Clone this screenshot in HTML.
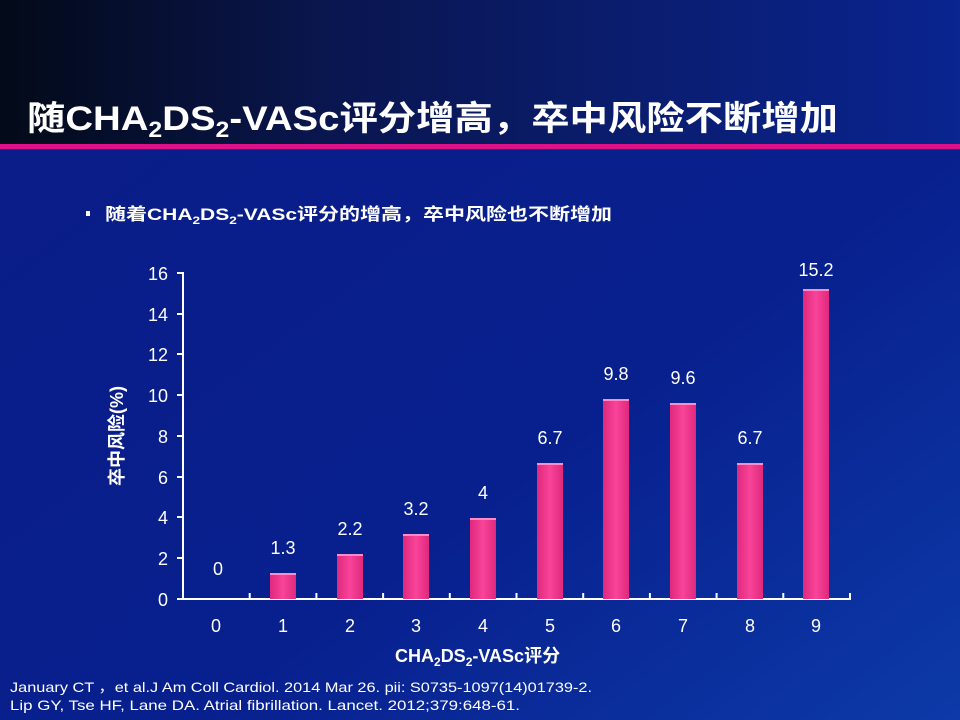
<!DOCTYPE html>
<html><head><meta charset="utf-8"><style>
html,body{margin:0;padding:0;width:960px;height:720px;overflow:hidden}
svg{display:block}
text{font-family:"Liberation Sans","Noto Sans CJK SC",sans-serif;fill:#fff}
</style></head><body>
<svg width="960" height="720" viewBox="0 0 960 720" xmlns="http://www.w3.org/2000/svg">
<defs>
<linearGradient id="top" x1="0" y1="0" x2="1" y2="0">
<stop offset="0" stop-color="#030a18"/><stop offset="0.35" stop-color="#0a1650"/><stop offset="1" stop-color="#0a2490"/>
</linearGradient>
<linearGradient id="bg" x1="0" y1="0" x2="1" y2="1">
<stop offset="0" stop-color="#0a1c86"/><stop offset="0.6" stop-color="#08208e"/><stop offset="1" stop-color="#0c3aa8"/>
</linearGradient>
<linearGradient id="bar" x1="0" y1="0" x2="1" y2="0">
<stop offset="0" stop-color="#e0287c"/><stop offset="0.5" stop-color="#f8449a"/><stop offset="1" stop-color="#e0287c"/>
</linearGradient>
</defs>
<rect width="960" height="720" fill="url(#bg)"/>
<rect width="960" height="144" fill="url(#top)"/>
<rect y="144" width="960" height="5" fill="#e0108a"/>
<text x="27" y="130" font-size="34" font-weight="bold" textLength="811" lengthAdjust="spacingAndGlyphs">随CHA<tspan font-size="22" dy="7">2</tspan><tspan dy="-7">DS</tspan><tspan font-size="22" dy="7">2</tspan><tspan dy="-7">-VASc评分增高，卒中风险不断增加</tspan></text>
<rect x="86" y="211" width="4" height="5" fill="#fff"/>
<text x="105" y="220" font-size="17" font-weight="bold" textLength="507" lengthAdjust="spacingAndGlyphs">随着CHA<tspan font-size="11" dy="4">2</tspan><tspan dy="-4">DS</tspan><tspan font-size="11" dy="4">2</tspan><tspan dy="-4">-VASc评分的增高，卒中风险也不断增加</tspan></text>
<g stroke="#fff" stroke-width="2">
<line x1="183" y1="272" x2="183" y2="600"/>
<line x1="182" y1="599" x2="851" y2="599"/>
<line x1="177" y1="273" x2="183" y2="273"/><line x1="177" y1="314" x2="183" y2="314"/><line x1="177" y1="354" x2="183" y2="354"/><line x1="177" y1="395" x2="183" y2="395"/><line x1="177" y1="436" x2="183" y2="436"/><line x1="177" y1="477" x2="183" y2="477"/><line x1="177" y1="517" x2="183" y2="517"/><line x1="177" y1="558" x2="183" y2="558"/><line x1="177" y1="599" x2="183" y2="599"/>
<line x1="249.7" y1="593" x2="249.7" y2="599"/><line x1="316.4" y1="593" x2="316.4" y2="599"/><line x1="383.1" y1="593" x2="383.1" y2="599"/><line x1="449.8" y1="593" x2="449.8" y2="599"/><line x1="516.5" y1="593" x2="516.5" y2="599"/><line x1="583.2" y1="593" x2="583.2" y2="599"/><line x1="649.9" y1="593" x2="649.9" y2="599"/><line x1="716.6" y1="593" x2="716.6" y2="599"/><line x1="783.3" y1="593" x2="783.3" y2="599"/><line x1="850" y1="593" x2="850" y2="599"/>
</g>
<g font-size="18" text-anchor="end">
<text x="168" y="280">16</text><text x="168" y="321">14</text><text x="168" y="361">12</text><text x="168" y="402">10</text><text x="168" y="443">8</text><text x="168" y="484">6</text><text x="168" y="524">4</text><text x="168" y="565">2</text><text x="168" y="606">0</text>
</g>
<g font-size="18" text-anchor="middle">
<text x="216" y="632">0</text><text x="283" y="632">1</text><text x="350" y="632">2</text><text x="416" y="632">3</text><text x="483" y="632">4</text><text x="550" y="632">5</text><text x="616" y="632">6</text><text x="683" y="632">7</text><text x="750" y="632">8</text><text x="816" y="632">9</text>
</g>
<g fill="url(#bar)">
<rect x="270" y="573" width="26" height="26"/>
<rect x="337" y="554" width="26" height="45"/>
<rect x="403" y="534" width="26" height="65"/>
<rect x="470" y="518" width="26" height="81"/>
<rect x="537" y="463" width="26" height="136"/>
<rect x="603" y="399" width="26" height="200"/>
<rect x="670" y="403" width="26" height="196"/>
<rect x="737" y="463" width="26" height="136"/>
<rect x="803" y="289" width="26" height="310"/>
</g>
<g fill="#ff8cc4">
<rect x="270" y="573" width="26" height="2"/><rect x="337" y="554" width="26" height="2"/><rect x="403" y="534" width="26" height="2"/><rect x="470" y="518" width="26" height="2"/><rect x="537" y="463" width="26" height="2"/><rect x="603" y="399" width="26" height="2"/><rect x="670" y="403" width="26" height="2"/><rect x="737" y="463" width="26" height="2"/><rect x="803" y="289" width="26" height="2"/>
</g>
<g font-size="18" text-anchor="middle">
<text x="218" y="575">0</text><text x="283" y="554">1.3</text><text x="350" y="535">2.2</text><text x="416" y="515">3.2</text><text x="483" y="499">4</text><text x="550" y="444">6.7</text><text x="616" y="380">9.8</text><text x="683" y="384">9.6</text><text x="750" y="444">6.7</text><text x="816" y="276">15.2</text>
</g>
<text transform="translate(123,436) rotate(-90)" font-size="18" font-weight="bold" text-anchor="middle">卒中风险(%)</text>
<text x="395" y="662" font-size="18" font-weight="bold">CHA<tspan font-size="12" dy="4">2</tspan><tspan dy="-4">DS</tspan><tspan font-size="12" dy="4">2</tspan><tspan dy="-4">-VASc评分</tspan></text>
<text x="10" y="692" font-size="14" textLength="582" lengthAdjust="spacingAndGlyphs">January CT ，et al.J Am Coll Cardiol. 2014 Mar 26. pii: S0735-1097(14)01739-2.</text>
<text x="10" y="710" font-size="14" textLength="510" lengthAdjust="spacingAndGlyphs">Lip GY, Tse HF, Lane DA. Atrial fibrillation.  Lancet. 2012;379:648-61.</text>
</svg>
</body></html>
